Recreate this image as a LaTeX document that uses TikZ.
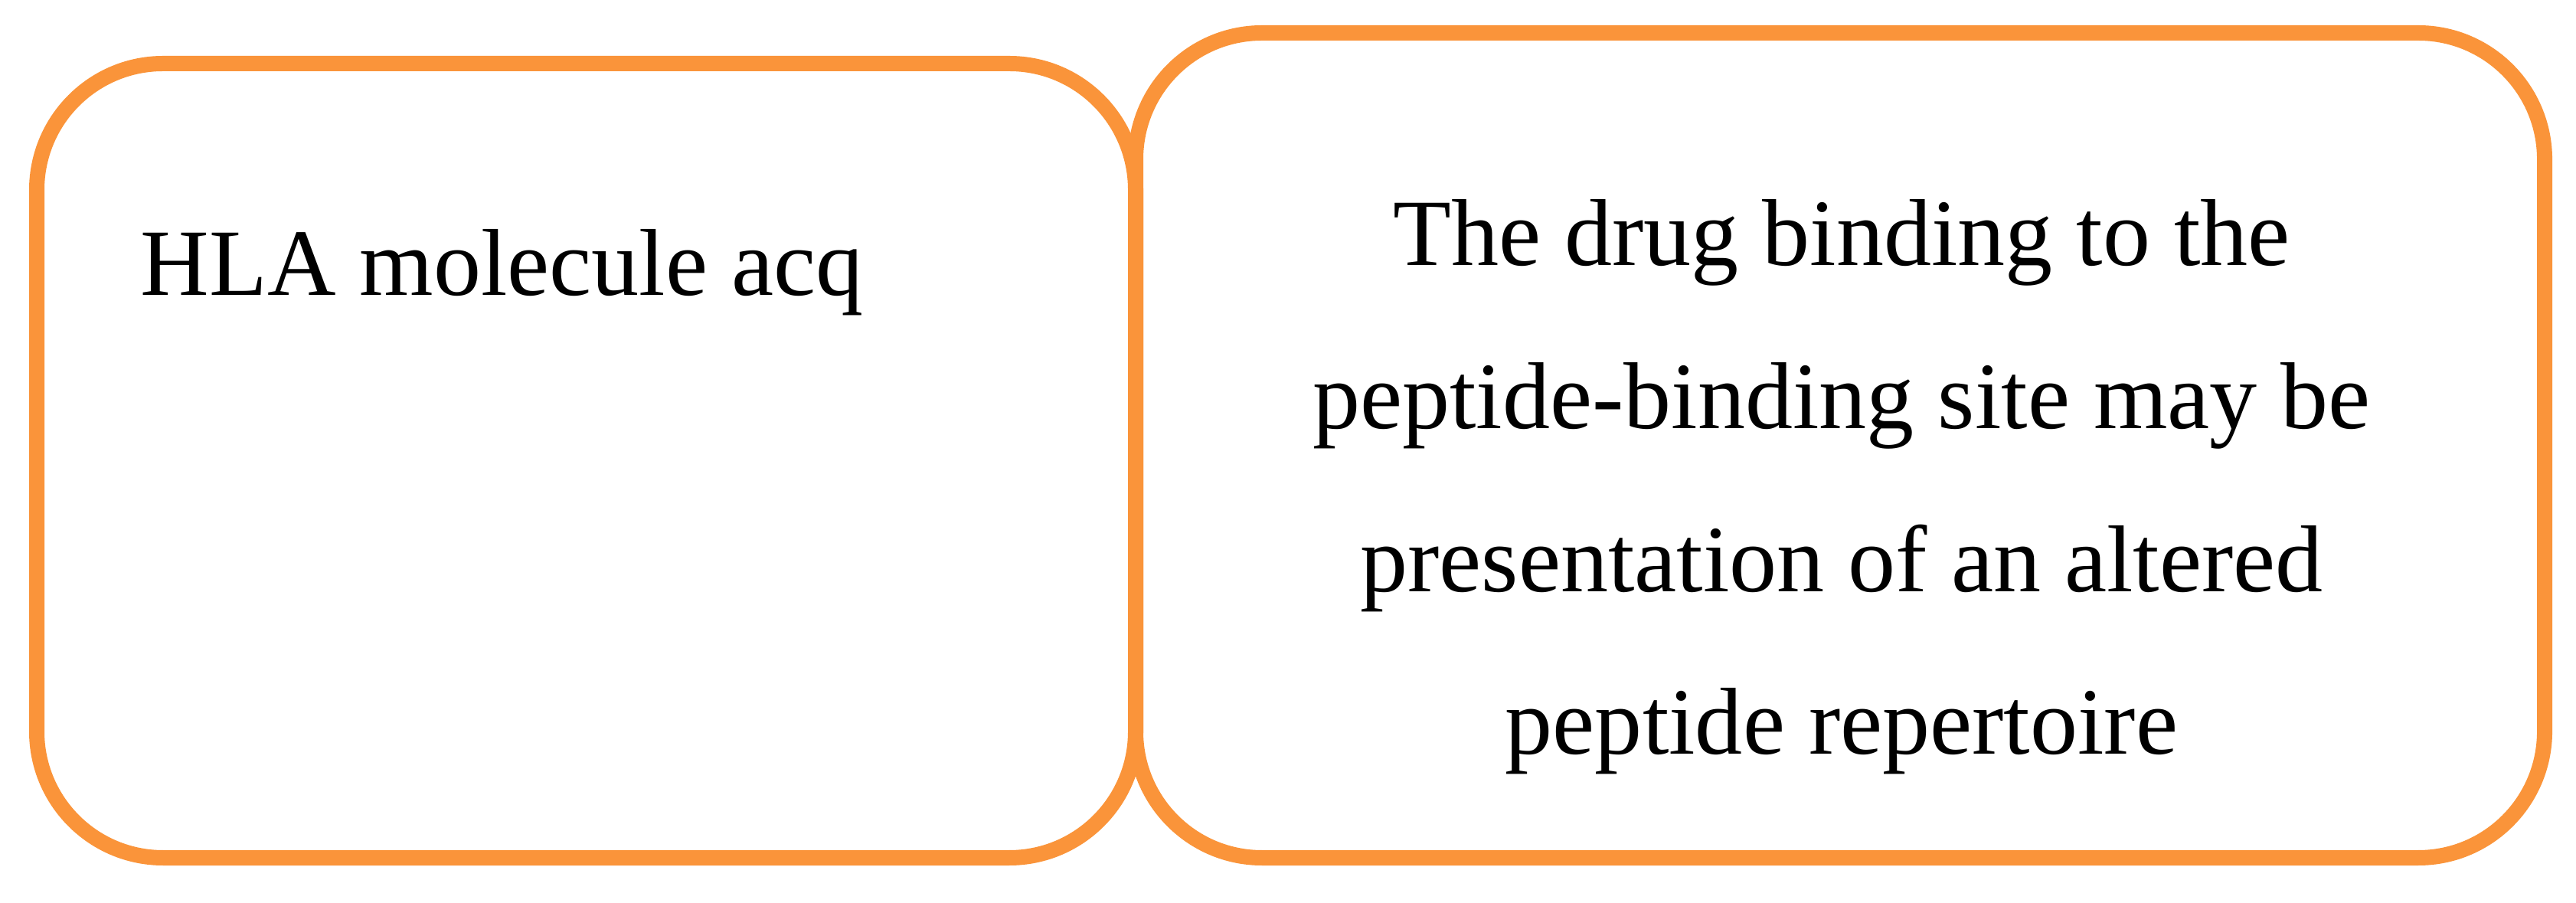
\documentclass[tikz,border=0pt]{standalone}
\usepackage{fontspec}
\setmainfont{Liberation Serif}
\definecolor{boxorange}{RGB}{250,148,58}
\tikzset{
  roundbox/.style={draw=boxorange, line width=0.2cm, rounded corners=1.65cm, inner sep=0pt, fill=none},
  boxtext/.style={inner sep=0pt, font=\fontsize{35.3}{60.6}\selectfont, text=black}
}
\begin{document}
\begin{tikzpicture}
\useasboundingbox[fill=white] (0,0) rectangle (33.64,11.78);
\node[roundbox, minimum width=14.35cm, minimum height=10.37cm] (leftbox) at (7.655,5.765) {};
\node[roundbox, minimum width=18.40cm, minimum height=10.77cm] (rightbox) at (24.03,5.965) {};
\node[boxtext, anchor=base west] (hla) at (1.83,7.92) {HLA molecule acq};
\node[boxtext, align=center, anchor=base] (drug) at (24.05,1.93) {The drug binding to the\\peptide-binding site may be\\presentation of an altered\\peptide repertoire};
\end{tikzpicture}
\end{document}
